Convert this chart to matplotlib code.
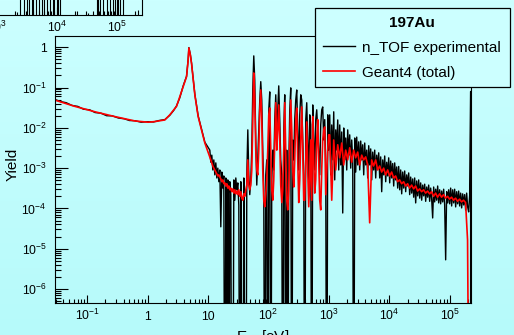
import numpy as np
import matplotlib.pyplot as plt
from matplotlib.colors import LinearSegmentedColormap
from matplotlib.patches import Rectangle
from matplotlib.ticker import LogLocator, NullFormatter

plt.rcParams['font.family'] = ['Liberation Sans', 'DejaVu Sans']
plt.rcParams['mathtext.fontset'] = 'custom'
plt.rcParams['mathtext.rm'] = 'Liberation Sans'
plt.rcParams['mathtext.it'] = 'Liberation Sans:italic'
plt.rcParams['mathtext.bf'] = 'Liberation Sans:bold'

# ---- data (E in eV, yield) ----
# smooth part below ~10 eV
exp_smooth_E = [0.029, 0.036, 0.045, 0.056, 0.07, 0.087, 0.11, 0.135, 0.17, 0.21, 0.26, 0.33,
                0.41, 0.5, 0.62, 0.78, 1.0, 1.25, 1.55, 1.93, 2.33, 2.7, 3.01, 3.4, 3.88, 4.41,
                4.69, 4.82, 5.1, 5.33, 6.05, 6.86, 7.8, 8.86]
exp_smooth_Y = [0.051, 0.045, 0.042, 0.036, 0.034, 0.029, 0.028, 0.024, 0.023, 0.020, 0.0198, 0.0175,
                0.0168, 0.0152, 0.0150, 0.0138, 0.0142, 0.0140, 0.0152, 0.0160, 0.0205, 0.027, 0.035,
                0.055, 0.11, 0.19, 0.50, 0.98, 0.66, 0.41, 0.068, 0.020, 0.0093, 0.0044]
g4_smooth_E = [0.029, 0.063, 0.135, 0.288, 0.617, 1.02, 1.32, 1.93, 2.33, 3.01, 3.88, 4.41,
               4.69, 4.82, 5.1, 5.33, 6.05, 6.86, 7.8, 8.86]
g4_smooth_Y = [0.049, 0.034, 0.025, 0.019, 0.0148, 0.0138, 0.0143, 0.0157, 0.021, 0.034, 0.105, 0.186,
               0.48, 0.96, 0.64, 0.40, 0.066, 0.019, 0.0089, 0.0042]

# log-binned parts: (first bin E, last bin E), one value per bin
low_range = (10.7, 45.5)
res_range = (47.2, 992.0)
exp_cont_range = (1031.0, 2.21e5)
g4_cont_range = (1031.0, 2.12e5)

exp_low = [2.8e-3, 1.4e-3, 2.1e-3, 9.0e-4, 1.6e-3, 6.8e-4, 1.35e-3, 5.7e-4, 1.0e-3, 4.6e-4,
           9.0e-4, 3.5e-5, 8.0e-4, 3.2e-4, 6.4e-4, 0, 5.7e-4, 0, 5.1e-4, 0,
           4.6e-4, 2.2e-4, 0, 0, 5.1e-4, 1.6e-4, 5.7e-4, 2.9e-4, 4.3e-4, 1.2e-4,
           0, 4.6e-4, 0, 0, 5.7e-4, 0, 0, 6.8e-4, 8.9e-3]
g4_low = [1.9e-3, 1.6e-3, 1.35e-3, 1.13e-3, 1.0e-3, 9.0e-4, 8.0e-4, 7.2e-4, 6.4e-4, 6.8e-4,
          6.0e-4, 5.4e-4, 4.6e-4, 5.1e-4, 4.1e-4, 4.3e-4, 3.6e-4, 4.1e-4, 3.2e-4, 3.6e-4,
          2.9e-4, 3.2e-4, 2.6e-4, 3.05e-4, 2.4e-4, 2.9e-4, 2.3e-4, 2.7e-4, 2.2e-4, 2.9e-4,
          2.0e-4, 2.6e-4, 1.8e-4, 1.6e-4, 2.3e-4, 2.0e-4, 2.9e-4, 3.8e-4, 1.6e-3]

exp_res = [6.8e-4, 2.2e-4, 5.1e-4, 2.8e-3, 8.7e-2, 0.61, 0.15, 5.0e-3, 3.8e-4, 1.6e-3,
           8.9e-3, 4.9e-2, 0.14, 4.9e-2, 2.8e-3, 2.9e-4, 0, 6.8e-4, 1.6e-3, 0,
           2.8e-2, 7.8e-2, 0, 5.1e-4, 2.8e-3, 9.0e-4, 1.6e-2, 6.6e-2, 8.9e-3, 2.8e-2,
           0.11, 1.6e-2, 1.6e-3, 6.8e-4, 0, 8.9e-3, 6.6e-2, 0, 2.8e-3, 0,
           9.0e-4, 2.8e-2, 9.8e-2, 0, 5.0e-3, 1.6e-3, 1.6e-2, 4.9e-2, 8.7e-2, 8.9e-3,
           9.0e-4, 2.1e-2, 6.6e-2, 4.9e-2, 5.0e-3, 6.8e-4, 0, 1.6e-2, 4.2e-2, 5.0e-3,
           5.1e-4, 2.1e-2, 1.2e-2, 0, 3.7e-2, 5.0e-3, 9.0e-4, 1.6e-2, 2.8e-2, 8.9e-3,
           2.8e-3, 6.8e-4, 1.2e-2, 2.8e-2, 3.3e-2, 5.0e-3, 1.6e-2, 1.2e-3, 0, 2.1e-2,
           2.8e-3]
g4_res = [3.8e-4, 2.9e-4, 3.8e-4, 9.0e-4, 1.6e-2, 0.23, 4.9e-2, 2.8e-3, 9.0e-4, 6.8e-4,
          2.8e-3, 2.8e-2, 8.7e-2, 1.6e-2, 9.0e-4, 1.6e-4, 1.1e-4, 2.2e-4, 5.1e-4, 2.8e-3,
          2.1e-2, 3.1e-2, 2.8e-3, 2.9e-4, 1.6e-4, 5.1e-4, 5.0e-3, 4.2e-2, 2.8e-3, 8.9e-3,
          3.7e-2, 5.0e-3, 3.8e-4, 1.4e-4, 2.9e-4, 2.8e-3, 4.2e-2, 2.8e-3, 1.6e-4, 9.2e-5,
          2.9e-4, 5.0e-3, 4.9e-2, 8.9e-3, 9.0e-4, 3.4e-4, 1.6e-3, 1.6e-2, 3.1e-2, 1.6e-3,
          1.4e-4, 5.1e-4, 5.0e-3, 3.3e-2, 2.8e-3, 1.6e-4, 1.6e-4, 1.6e-3, 1.4e-2, 9.0e-4,
          1.1e-4, 5.1e-4, 5.0e-3, 1.6e-4, 1.9e-2, 1.6e-3, 2.4e-4, 5.1e-4, 5.0e-3, 1.6e-2,
          1.6e-3, 1.6e-4, 9.2e-5, 9.0e-4, 5.0e-3, 8.9e-3, 1.05e-2, 2.2e-4, 7.6e-4, 2.8e-3,
          6.7e-3]

exp_cont = [0.021, 6.8e-4, 0.0118, 1.6e-3, 0.025, 5.1e-4, 0.0089, 2.8e-3, 0.0157, 9.0e-4,
            0.0118, 1.2e-3, 0.0079, 7.7e-5, 0.0099, 1.6e-3, 0.0056, 9.0e-4, 0.0089, 2.1e-3,
            0.0067, 1.0e-3, 0.005, 1.6e-3, 0, 0.0056, 8.0e-4, 0.0059, 1.2e-3, 0.0045,
            9.0e-4, 0.0047, 1.6e-3, 0.0038, 6.8e-4, 0.0042, 1.2e-3, 0.0028, 5.7e-4, 0.0036,
            1.2e-3, 0.003, 5.1e-4, 0.0025, 9.0e-4, 0.0028, 5.7e-4, 0.0021, 1.0e-3, 0.0024,
            5.7e-4, 0.0019, 2.6e-4, 0.0016, 6.8e-4, 0.002, 4.6e-4, 1.4e-3, 6.4e-4, 1.8e-3,
            4.3e-4, 1.5e-3, 5.7e-4, 1.3e-3, 3.6e-4, 1.35e-3, 5.1e-4, 1.07e-3, 3.2e-4, 1.1e-3,
            2.9e-4, 9.0e-4, 2.3e-4, 8.0e-4, 3.2e-4, 8.5e-4, 2.6e-4, 6.8e-4, 3.6e-4, 7.6e-4,
            2.2e-4, 6.0e-4, 2.4e-4, 5.4e-4, 1.9e-4, 5.7e-4, 1.37e-4, 4.8e-4, 2.05e-4, 5.1e-4,
            1.8e-4, 4.3e-4, 1.6e-4, 3.8e-4, 2.05e-4, 4.0e-4, 1.5e-4, 3.4e-4, 1.9e-4, 3.8e-4,
            1.5e-4, 3.2e-4, 1.7e-4, 5.8e-5, 3.4e-4, 1.45e-4, 3.0e-4, 1.6e-4, 3.6e-4, 1.37e-4,
            2.9e-4, 1.3e-4, 2.7e-4, 1.45e-4, 3.0e-4, 1.22e-4, 5.3e-6, 2.6e-4, 1.37e-4, 2.9e-4,
            1.3e-4, 3.2e-4, 1.15e-4, 2.9e-4, 1.37e-4, 3.0e-4, 1.09e-4, 2.6e-4, 1.3e-4, 2.7e-4,
            1.15e-4, 2.4e-4, 1.03e-4, 2.3e-4, 1.22e-4, 2.2e-4, 9.1e-5, 2.4e-4, 1.09e-4, 8.2e-5,
            2.1e-4, 0.08]
g4_cont = [6.7e-3, 1.6e-4, 5.0e-3, 9.0e-4, 3.8e-3, 1.8e-3, 4.2e-3, 1.2e-3, 2.8e-3, 1.6e-3,
           3.2e-3, 1.4e-3, 2.8e-3, 1.8e-3, 2.5e-3, 1.2e-3, 2.1e-3, 1.6e-3, 1.9e-3, 1.2e-3,
           4.4e-5, 1.6e-3, 1.13e-3, 1.6e-3, 9.0e-4, 1.13e-3, 8.0e-4, 1.0e-3, 6.8e-4, 9.0e-4,
           6.4e-4, 8.0e-4, 5.7e-4, 6.4e-4, 4.6e-4, 5.1e-4, 4.1e-4, 4.6e-4, 3.6e-4, 4.1e-4,
           3.2e-4, 3.8e-4, 3.05e-4, 3.6e-4, 2.7e-4, 3.05e-4, 2.6e-4, 2.9e-4, 2.4e-4, 2.7e-4,
           2.3e-4, 2.6e-4, 2.0e-4, 2.4e-4, 1.9e-4, 2.3e-4, 1.9e-4, 2.2e-4, 1.8e-4, 2.0e-4,
           1.7e-4, 1.9e-4, 1.6e-4, 1.8e-4, 1.5e-4, 1.7e-4, 1.45e-4, 1.6e-4, 1.4e-4, 1.65e-5,
           0]

# inset (previous plot, mostly outside the picture): spike energies and visible heights
inset_E = [2150, 2420, 2820, 3120, 3450, 3790, 4030, 4470, 5070, 5550, 6140, 6730, 7650, 8480,
           9020, 9890, 10500, 11200, 21800, 33200, 45800, 48800, 52000, 59000, 67000, 76000,
           84700, 92500, 98700, 105000, 112000, 127000, 227000]
inset_h = [0.06, 1, 1, 1, 1, 1, 1, 1, 1, 1, 1, 1, 1, 1, 1, 1, 1, 1, 0.07, 0.04, 1, 1, 1, 1, 1, 1,
           1, 1, 1, 1, 1, 1, 0.09]

xtick_vals = [0.1, 1, 10, 100, 1e3, 1e4, 1e5]
xtick_labels = ['$10^{-1}$', '1', '10', '$10^{2}$', '$10^{3}$', '$10^{4}$', '$10^{5}$']
ytick_vals = [1e-6, 1e-5, 1e-4, 1e-3, 1e-2, 1e-1, 1]
ytick_labels = ['$10^{-6}$', '$10^{-5}$', '$10^{-4}$', '$10^{-3}$', '$10^{-2}$', '$10^{-1}$', '1']
inset_tick_vals = [1e3, 1e4, 1e5]
inset_tick_labels = ['$10^{3}$', '$10^{4}$', '$10^{5}$']


def binned(rng, vals):
    return np.geomspace(rng[0], rng[1], len(vals))


exp_E = np.concatenate([exp_smooth_E, binned(low_range, exp_low), binned(res_range, exp_res),
                        binned(exp_cont_range, exp_cont), [exp_cont_range[1]]])
exp_Y = np.concatenate([exp_smooth_Y, exp_low, exp_res, exp_cont, [0]])
g4_E = np.concatenate([g4_smooth_E, binned(low_range, g4_low), binned(res_range, g4_res),
                       binned(g4_cont_range, g4_cont)])
g4_Y = np.concatenate([g4_smooth_Y, g4_low, g4_res, g4_cont])
exp_Y = np.where(exp_Y > 0, exp_Y, 1e-12)
g4_Y = np.where(g4_Y > 0, g4_Y, 1e-12)

W, H = 514, 335
fig = plt.figure(figsize=(W / 100, H / 100), dpi=100)

# background gradient
bg = fig.add_axes([0, 0, 1, 1], zorder=-10)
cmap = LinearSegmentedColormap.from_list('bg', ['#CCFFFF', '#B6FAFA'])
bg.imshow(np.linspace(0, 1, 256)[:, None], aspect='auto', cmap=cmap, extent=[0, 1, 0, 1])
bg.axis('off')


def root_style(a, xlen, ylen):
    a.set_facecolor('none')
    a.tick_params(which='both', direction='in', top=False, right=False, width=0.8,
                  colors='black', labelsize=8.8)
    a.tick_params(axis='x', which='major', length=xlen)
    a.tick_params(axis='x', which='minor', length=xlen / 2)
    a.tick_params(axis='y', which='major', length=ylen)
    a.tick_params(axis='y', which='minor', length=ylen / 2)
    for s in a.spines.values():
        s.set_linewidth(0.8)


# inset remainder at top-left
ins = fig.add_axes([-0.1, 1 - 15 / H, (142 + 51.4) / W, 55 / H])
root_style(ins, 5.5, 8)
ins.set_xscale('log')
ins.set_xlim(156, 2.61e5)
ins.set_ylim(0, 1)
ins.vlines(inset_E, 0, inset_h, color='black', lw=0.8)
ins.set_xticks(inset_tick_vals, inset_tick_labels, va='baseline')
ins.xaxis.set_minor_locator(LogLocator(base=10, subs=np.arange(2, 10), numticks=50))
ins.xaxis.set_minor_formatter(NullFormatter())
ins.tick_params(axis='x', pad=12)
ins.set_yticks([])

# main plot
ax = fig.add_axes([55 / W, 1 - 303 / H, 416 / W, 267 / H])
root_style(ax, 5.8, 9)
ax.set_xscale('log')
ax.set_yscale('log')
l_exp, = ax.plot(exp_E, exp_Y, color='black', lw=1.0)
l_g4, = ax.plot(g4_E, g4_Y, color='#FF0000', lw=1.2)
ax.set_xlim(0.0294, 2.24e5)
ax.set_ylim(4.5e-7, 1.9)
ax.set_xticks(xtick_vals, xtick_labels, va='baseline')
ax.set_yticks(ytick_vals, ytick_labels)
ax.xaxis.set_minor_locator(LogLocator(base=10, subs=np.arange(2, 10), numticks=50))
ax.yaxis.set_minor_locator(LogLocator(base=10, subs=np.arange(2, 10), numticks=50))
ax.xaxis.set_minor_formatter(NullFormatter())
ax.yaxis.set_minor_formatter(NullFormatter())
ax.tick_params(axis='x', pad=12)
ax.tick_params(axis='y', pad=6)

ax.set_xlabel('E$_{\\mathrm{n}}$  [eV]', fontsize=11)
ax.xaxis.set_label_coords(0.5, -0.094)
ax.set_ylabel('Yield', fontsize=11)
ax.yaxis.set_label_coords(-0.086, 0.52)

# legend box
fig.add_artist(Rectangle((315 / W, 1 - 87 / H), 195 / W, 79 / H, transform=fig.transFigure,
                         facecolor='#CCFFFF', edgecolor='black', lw=0.9, zorder=5))
leg = fig.legend([l_exp, l_g4], ['n_TOF experimental', 'Geant4 (total)'], loc='upper left',
                 bbox_to_anchor=(315 / W, 1 - 8 / H), bbox_transform=fig.transFigure,
                 frameon=False, fontsize=11, title='197Au',
                 title_fontproperties={'weight': 'bold', 'size': 11},
                 handlelength=2.1, handletextpad=0.45, labelspacing=0.72,
                 borderpad=0.5, borderaxespad=0)
leg.set_zorder(6)

fig.savefig('out.png', dpi=100)
